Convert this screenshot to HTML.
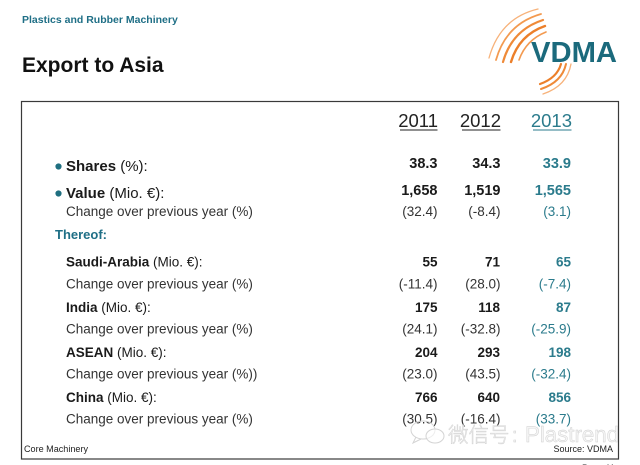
<!DOCTYPE html>
<html>
<head>
<meta charset="utf-8">
<style>
  html, body { margin:0; padding:0; background:#ffffff; }
  body { width:640px; height:465px; overflow:hidden; }
  svg { display:block; }
  text { font-family: "Liberation Sans", Arial, sans-serif; }
  .cjk { font-family: "Liberation Sans", "Noto Sans CJK SC", sans-serif; font-weight:300; }
</style>
</head>
<body>
<svg width="640" height="465" viewBox="0 0 640 465" xmlns="http://www.w3.org/2000/svg">
  <rect x="0" y="0" width="640" height="465" fill="#ffffff"/>

  <!-- Header -->
  <text x="22" y="23" font-size="10.5" font-weight="bold" fill="#1f6f86">Plastics and Rubber Machinery</text>
  <text x="22" y="72" font-size="21" font-weight="bold" fill="#111">Export to Asia</text>

  <!-- VDMA logo -->
  <g fill="none" stroke-linecap="round">
    <path d="M538 9 Q500 18 489 58" stroke="#f7b27a" stroke-width="1.3"/>
    <path d="M541 14 Q506 24 496 60" stroke="#f39a50" stroke-width="1.8"/>
    <path d="M543 20 Q512 30 503 62" stroke="#ef8a38" stroke-width="2.2"/>
    <path d="M545 26 Q519 35 511 62" stroke="#ec7f2a" stroke-width="2.4"/>
    <path d="M546 32 Q526 40 519 60" stroke="#f39a50" stroke-width="1.6"/>
    <path d="M571 64 Q567 86 543 94" stroke="#f7b27a" stroke-width="1.3"/>
    <path d="M566 64 Q562 82 541 89" stroke="#ef8a38" stroke-width="2"/>
    <path d="M561 64 Q557 78 540 84" stroke="#ec7f2a" stroke-width="2.2"/>
  </g>
  <text x="531" y="62" font-size="28.5" font-weight="bold" fill="#1b6a7c" textLength="86" lengthAdjust="spacingAndGlyphs">VDMA</text>

  <!-- Box -->
  <rect x="21.5" y="101.5" width="597" height="357.5" fill="none" stroke="#3a3a3a" stroke-width="1.2"/>

  <!-- Year headers -->
  <g font-size="18.5">
    <text x="438" y="127" text-anchor="end" fill="#222">2011</text>
    <text x="501" y="127" text-anchor="end" fill="#222">2012</text>
    <text x="572" y="127" text-anchor="end" fill="#2b7b8c">2013</text>
  </g>
  <line x1="400" y1="130" x2="437.5" y2="130" stroke="#222" stroke-width="1"/>
  <line x1="462" y1="130" x2="500.5" y2="130" stroke="#222" stroke-width="1"/>
  <line x1="533" y1="130" x2="571.5" y2="130" stroke="#2b7b8c" stroke-width="1"/>

  <!-- Shares / Value -->
  <circle cx="58.5" cy="166.5" r="3.1" fill="#1f6f80"/>
  <circle cx="58.5" cy="193.5" r="3.1" fill="#1f6f80"/>
  <text x="66" y="171" font-size="15" fill="#1a1a1a"><tspan font-weight="bold">Shares</tspan> (%):</text>
  <text x="66" y="198" font-size="15" fill="#1a1a1a"><tspan font-weight="bold">Value</tspan> (Mio. €):</text>
  <text x="66" y="216" font-size="13.5" fill="#333">Change over previous year (%)</text>

  <g font-size="14.5" font-weight="bold" text-anchor="end">
    <text x="437.5" y="168" fill="#1a1a1a">38.3</text>
    <text x="500.5" y="168" fill="#1a1a1a">34.3</text>
    <text x="571" y="168" fill="#2b7b8c">33.9</text>
    <text x="437.5" y="195" fill="#1a1a1a">1,658</text>
    <text x="500.5" y="195" fill="#1a1a1a">1,519</text>
    <text x="571" y="195" fill="#2b7b8c">1,565</text>
  </g>
  <g font-size="13.5" text-anchor="end">
    <text x="437.5" y="216" fill="#333">(32.4)</text>
    <text x="500.5" y="216" fill="#333">(-8.4)</text>
    <text x="571" y="216" fill="#2b7b8c">(3.1)</text>
  </g>

  <text x="55" y="239" font-size="13" font-weight="bold" fill="#1f6f86">Thereof:</text>

  <!-- Regions -->
  <g font-size="13.5" fill="#1a1a1a">
    <text x="66" y="266.5"><tspan font-weight="bold">Saudi-Arabia</tspan> (Mio. €):</text>
    <text x="66" y="288.5" fill="#333">Change over previous year (%)</text>
    <text x="66" y="312"><tspan font-weight="bold">India</tspan> (Mio. €):</text>
    <text x="66" y="333.5" fill="#333">Change over previous year (%)</text>
    <text x="66" y="357"><tspan font-weight="bold">ASEAN</tspan> (Mio. €):</text>
    <text x="66" y="378.5" fill="#333">Change over previous year (%))</text>
    <text x="66" y="402"><tspan font-weight="bold">China</tspan> (Mio. €):</text>
    <text x="66" y="423.5" fill="#333">Change over previous year (%)</text>
  </g>

  <g font-size="13.5" font-weight="bold" text-anchor="end">
    <text x="437.5" y="266.5" fill="#1a1a1a">55</text>
    <text x="500" y="266.5" fill="#1a1a1a">71</text>
    <text x="571" y="266.5" fill="#2b7b8c">65</text>
    <text x="437.5" y="312" fill="#1a1a1a">175</text>
    <text x="500" y="312" fill="#1a1a1a">118</text>
    <text x="571" y="312" fill="#2b7b8c">87</text>
    <text x="437.5" y="357" fill="#1a1a1a">204</text>
    <text x="500" y="357" fill="#1a1a1a">293</text>
    <text x="571" y="357" fill="#2b7b8c">198</text>
    <text x="437.5" y="402" fill="#1a1a1a">766</text>
    <text x="500" y="402" fill="#1a1a1a">640</text>
    <text x="571" y="402" fill="#2b7b8c">856</text>
  </g>
  <g font-size="13.5" text-anchor="end">
    <text x="437.5" y="288.5" fill="#333">(-11.4)</text>
    <text x="500.5" y="288.5" fill="#333">(28.0)</text>
    <text x="571" y="288.5" fill="#2b7b8c">(-7.4)</text>
    <text x="437.5" y="333.5" fill="#333">(24.1)</text>
    <text x="500.5" y="333.5" fill="#333">(-32.8)</text>
    <text x="571" y="333.5" fill="#2b7b8c">(-25.9)</text>
    <text x="437.5" y="378.5" fill="#333">(23.0)</text>
    <text x="500.5" y="378.5" fill="#333">(43.5)</text>
    <text x="571" y="378.5" fill="#2b7b8c">(-32.4)</text>
    <text x="437.5" y="423.5" fill="#333">(30.5)</text>
    <text x="500.5" y="423.5" fill="#333">(-16.4)</text>
    <text x="571" y="423.5" fill="#2b7b8c">(33.7)</text>
  </g>

  <!-- Watermark -->
  <g fill="none" stroke="#d4d4d4" stroke-width="1">
    <ellipse cx="423" cy="430" rx="12" ry="9"/>
    <path d="M416 437 L413 443 L421 439"/>
    <ellipse cx="435" cy="436" rx="9" ry="7" fill="#ffffff" fill-opacity="0.6"/>
  </g>
  <text class="cjk" x="448" y="442" font-size="20.5" fill="#f3f3f3" stroke="#cfcfcf" stroke-width="0.45">微信号</text>
  <text x="512" y="442" font-size="20" fill="#f3f3f3" stroke="#cfcfcf" stroke-width="0.45">:</text>
  <text x="525" y="442" font-size="22" fill="#f5f5f5" stroke="#cfcfcf" stroke-width="0.45" textLength="94" lengthAdjust="spacingAndGlyphs">Plastrend</text>

  <!-- Footer -->
  <text x="24" y="452" font-size="9" fill="#222" textLength="64" lengthAdjust="spacingAndGlyphs">Core Machinery</text>
  <text x="613" y="452" font-size="9" fill="#222" text-anchor="end">Source: VDMA</text>
  <text x="582" y="471" font-size="9" fill="#222">Page 11</text>
</svg>
</body>
</html>
